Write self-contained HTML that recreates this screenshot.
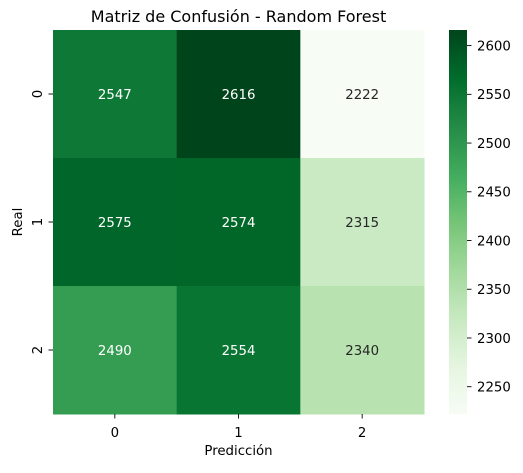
<!DOCTYPE html>
<html><head><meta charset="utf-8"><style>
html,body{margin:0;padding:0;background:#fff;}
svg text{font-family:"DejaVu Sans","Liberation Sans",sans-serif;}
</style></head><body>
<svg id="chart" width="523" height="468" xmlns="http://www.w3.org/2000/svg">
<defs><linearGradient id="cbgrad" x1="0" y1="1" x2="0" y2="0"></linearGradient></defs>
<text x="238.5" y="22" font-size="16" text-anchor="middle" fill="#000">Matriz de Confusión - Random Forest</text>
<g id="cells"></g>
<g id="axes"></g>
<rect x="449" y="30" width="18" height="384" fill="url(#cbgrad)"/>
<g id="cbticks"></g>
<text x="238.5" y="455" font-size="13.3" text-anchor="middle">Predicción</text>
<text x="22" y="222" font-size="13.3" text-anchor="middle" transform="rotate(-90 22 222)">Real</text>
</svg>
<script>
const rowLabels=["0","1","2"];
const colLabels=["0","1","2"];
const row0=[2547,2616,2222];
const row1=[2575,2574,2315];
const row2=[2490,2554,2340];
const cbTicks=[2250,2300,2350,2400,2450,2500,2550,2600];
const matrix=[row0,row1,row2];
const NS="http://www.w3.org/2000/svg";
const stops=["#f7fcf5","#e5f5e0","#c7e9c0","#a1d99b","#74c476","#41ab5d","#238b45","#006d2c","#00441b"];
function hex(h){return [1,3,5].map(i=>parseInt(h.substr(i,2),16));}
function cmap(t){t=Math.max(0,Math.min(1,t));const p=t*8,i=Math.min(7,Math.floor(p)),f=p-i;const a=hex(stops[i]),b=hex(stops[i+1]);return a.map((v,k)=>Math.round(v+(b[k]-v)*f));}
const all=matrix.flat();const vmin=Math.min(...all),vmax=Math.max(...all);
const L=53,T=30,W=371,H=384,cw=W/colLabels.length,ch=H/rowLabels.length;
const xC=j=>L+cw*(j+0.5), yC=i=>T+ch*(i+0.5);
const cbY=v=>T+H*(vmax-v)/(vmax-vmin);
function el(tag,attrs,parent){const e=document.createElementNS(NS,tag);for(const k in attrs)e.setAttribute(k,attrs[k]);parent.appendChild(e);return e;}
function lum(c){const l=c.map(v=>{v/=255;return v<=0.03928?v/12.92:Math.pow((v+0.055)/1.055,2.4);});return 0.2126*l[0]+0.7152*l[1]+0.0722*l[2];}
const cells=document.getElementById('cells');
matrix.forEach((row,i)=>row.forEach((v,j)=>{
  const c=cmap((v-vmin)/(vmax-vmin));
  const r=el('rect',{x:L+cw*j,y:T+ch*i,width:cw+0.5,height:ch+0.5,fill:`rgb(${c})`},cells);
  
  
  const t=el('text',{x:xC(j),y:yC(i)+5,'font-size':13.3,'text-anchor':'middle',fill:lum(c)>0.408?'#262626':'#ffffff'},cells);
  t.textContent=v;
  
  
}));
const axes=document.getElementById('axes');
colLabels.forEach((lab,j)=>{
  const l=el('line',{x1:xC(j),x2:xC(j),y1:T+H,y2:T+H+4.5,stroke:'#000','stroke-width':0.9},axes);
  
  
  const t=el('text',{x:xC(j),y:T+H+23,'font-size':13.3,'text-anchor':'middle'},axes);
  t.textContent=lab;
  
  
});
rowLabels.forEach((lab,i)=>{
  const l=el('line',{x1:L-4.5,x2:L,y1:yC(i),y2:yC(i),stroke:'#000','stroke-width':0.9},axes);
  
  
  const t=el('text',{x:42,y:yC(i),'font-size':13.3,'text-anchor':'middle',transform:`rotate(-90 42 ${yC(i)})`},axes);
  t.textContent=lab;
  
  
});
const g=document.getElementById('cbgrad');
for(let k=0;k<=16;k++){const c=cmap(k/16);el('stop',{offset:k/16,'stop-color':`rgb(${c})`},g);}
const cbt=document.getElementById('cbticks');
cbTicks.forEach(v=>{
  const y=cbY(v);
  const l=el('line',{x1:467,x2:471.5,y1:y,y2:y,stroke:'#000','stroke-width':0.9},cbt);
  
  
  const t=el('text',{x:477,y:y+4.8,'font-size':13.3},cbt);
  t.textContent=v;
  
  
});
</script>
</body></html>
